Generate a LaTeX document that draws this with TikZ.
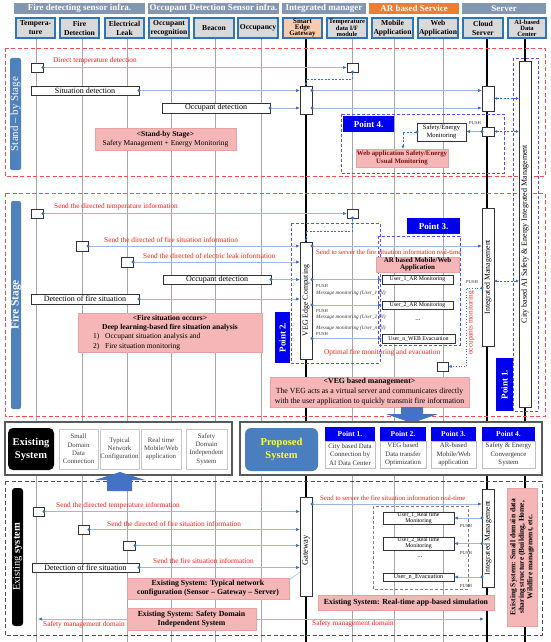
\documentclass[tikz,border=0pt]{standalone}
\usepackage{fontspec}
\setmainfont{Liberation Serif}
\usetikzlibrary{arrows.meta,calc}
\definecolor{hdrgray}{HTML}{8497B0}
\definecolor{hdrorange}{HTML}{ED7D31}
\definecolor{colblue}{HTML}{2E75B6}
\definecolor{colfill}{HTML}{D9D9D9}
\definecolor{gwfill}{HTML}{F8CBAD}
\definecolor{stageblue}{HTML}{4F81BD}
\definecolor{pinkbox}{HTML}{F4B6B6}
\definecolor{pinkline}{HTML}{E8A2A2}
\definecolor{pointblue}{HTML}{0000EE}
\definecolor{dashblue}{HTML}{5050FF}
\definecolor{dashred}{HTML}{FF4B4B}
\definecolor{lineblue}{HTML}{9DB9E3}
\definecolor{tipblue}{HTML}{3A6FC4}
\definecolor{lifegray}{HTML}{A6A6A6}
\definecolor{txtred}{HTML}{FF1A1A}
\definecolor{propyellow}{HTML}{FFFF33}
\definecolor{propblue}{HTML}{4A7EBF}
\definecolor{arrblue}{HTML}{4472C4}
\definecolor{webred}{HTML}{7A1010}
\newcommand\fsz[2]{\fontsize{#1}{#2}\selectfont}
\newcommand\mkbox[7]{\node[#2,minimum width={#5-#3},minimum height={#6-#4}] (#1) at ({(#3+#5)/2},{(#4+#6)/2}) {#7};}
\tikzset{
  grp/.style={fill=hdrgray,text=white,font=\fsz{9}{10}\bfseries,inner sep=0pt,outer sep=0pt},
  colh/.style={draw=colblue,line width=1.2pt,fill=colfill,font=\fsz{7.6}{9}\bfseries,align=center,inner sep=0pt,outer sep=0pt},
  actb/.style={draw=black!80,line width=0.6pt,fill=white,inner sep=0pt,outer sep=0pt,align=center,font=\fsz{8}{9}},
  pinkb/.style={fill=pinkbox,draw=pinkline,line width=0.4pt,inner sep=0pt,outer sep=0pt,align=center,font=\fsz{7.5}{9}},
  ptlab/.style={fill=pointblue,text=white,font=\fsz{9}{10}\bfseries,inner sep=0pt,outer sep=0pt},
  stagel/.style={fill=stageblue,rounded corners=2pt,inner sep=0pt,outer sep=0pt},
  lifel/.style={draw=lifegray,line width=0.8pt},
  lifeb/.style={draw=black,line width=1.3pt},
  conn/.style={draw=lineblue,line width=0.7pt,{Circle[length=3pt,color=tipblue]}-{Latex[length=4pt,width=3.2pt,color=tipblue]},shorten <=-1.5pt},
  connp/.style={draw=lineblue,line width=0.7pt,-{Latex[length=4pt,width=3.2pt,color=tipblue]}},
  dconn/.style={draw=tipblue,line width=0.6pt,dash pattern=on 2pt off 1.5pt,{Latex[length=3pt,width=3pt]}-{Latex[length=3pt,width=3pt]}},
  tdashc/.style={draw=tipblue,line width=0.6pt,dash pattern=on 2pt off 1.5pt,{Circle[length=3pt]}-{Latex[length=3.5pt,width=3pt]},shorten <=-1.5pt},
  dotc/.style={draw=tipblue,line width=0.7pt,dotted,{Circle[length=3pt]}-{Latex[length=3.5pt,width=3pt]},shorten <=-1.5pt},
  secr/.style={draw=dashred,line width=0.9pt,dash pattern=on 4pt off 2.5pt},
  exsec/.style={draw=black!70,line width=0.9pt,dash pattern=on 4pt off 2.5pt},
  bdash/.style={draw=dashblue,line width=0.9pt,dash pattern=on 3pt off 2pt},
  gdash/.style={draw=gray,line width=0.7pt,dash pattern=on 3pt off 2pt},
  rtxt/.style={text=txtred,font=\fsz{7.3}{8},inner sep=0pt,anchor=west},
  tinyt/.style={font=\fsz{4.6}{5},inner sep=0pt,text=black!80},
  tinyi/.style={font=\fsz{5.2}{6}\itshape,inner sep=0pt,text=black!80,anchor=west},
  sumbox/.style={draw=black!65,line width=1.4pt,fill=white,inner sep=0pt,outer sep=0pt},
  subb/.style={draw=gray!45,line width=0.8pt,fill=white,text=black!75,font=\fsz{6.8}{8.3},align=center,inner sep=0pt,outer sep=0pt},
  ptbody/.style={draw=gray!50,line width=0.8pt,fill=white,text=black!80,font=\fsz{6.8}{8.3},align=center,inner sep=0pt,outer sep=0pt},
  calline/.style={draw=lineblue,line width=0.5pt},
}
\begin{document}
\begin{tikzpicture}[x=1pt,y=-1pt]
\useasboundingbox (0,0) rectangle (550,642);
\fill[white] (0,0) rectangle (550,642);

% lifelines
\foreach \lx in {36,82,127,171,215,261,352,394,443} \draw[lifel] (\lx,38) -- (\lx,642);
\foreach \lx in {306,487,525} \draw[lifeb] (\lx,38) -- (\lx,642);

% group headers
\mkbox{g1}{grp}{14}{3}{145}{14}{Fire detecting sensor infra.}
\mkbox{g2}{grp}{148}{3}{279}{14}{Occupant Detection Sensor infra.}
\mkbox{g3}{grp}{282}{3}{366}{14}{Integrated manager}
\mkbox{g4}{grp,fill=hdrorange}{369}{3}{459}{14}{AR based Service}
\mkbox{g5}{grp}{462}{3}{546}{14}{Server}

% column headers
\mkbox{hT}{colh}{16}{18}{55}{38}{Tempera-\\ture}
\mkbox{hF}{colh}{60}{18}{99}{38}{Fire\\Detection}
\mkbox{hE}{colh}{105}{18}{144}{38}{Electrical\\Leak}
\mkbox{hO}{colh}{149}{18}{189}{38}{Occupant\\recognition}
\mkbox{hB}{colh}{194}{18}{234}{38}{Beacon}
\mkbox{hC}{colh}{238}{18}{278}{38}{Occupancy}
\mkbox{hG}{colh,fill=gwfill,font=\fsz{7}{6.4}\bfseries}{283}{18}{322}{38}{Smart\\Edge\\Gateway}
\mkbox{hI}{colh,font=\fsz{6.5}{6.2}\bfseries}{327}{18}{367}{38}{Temperature\\data I/F\\module}
\mkbox{hM}{colh}{372}{18}{413}{38}{Mobile\\Application}
\mkbox{hW}{colh}{418}{18}{458}{38}{Web\\Application}
\mkbox{hS}{colh}{463}{18}{503}{38}{Cloud\\Server}
\mkbox{hA}{colh,font=\fsz{6.5}{6.2}\bfseries}{508}{18}{546}{38}{AI-based\\Data\\Center}

% sections
\draw[secr] (5,48) rectangle (545,176);
\draw[secr] (5,193) rectangle (545,416);
\draw[exsec] (5,481) rectangle (542,635);

% AI data center box
\draw[bdash] (513,58) rectangle (538,411);
\mkbox{aiB}{actb}{519}{61}{531}{407}{}
\node[rotate=90,font=\fsz{8}{9}] (aiBt) at (aiB) {City based AI Safety \& Energy Integrated Management};
\mkbox{p1L}{ptlab}{496}{358}{513}{411}{}
\node[rotate=90,text=white,font=\fsz{9}{10}\bfseries] (p1Lt) at (p1L) {Point 1.};

% ===== Stand-by stage =====
\mkbox{stA}{stagel}{10}{58}{21}{170}{}
\node[rotate=90,text=white,font=\fsz{11}{12}] (stAt) at (stA) {Stand – by Stage};
\mkbox{tA}{actb}{31}{63}{43}{72}{}
\mkbox{tifA}{actb}{347}{63}{358}{72}{}
\node[rtxt] (lA1) at (53,61) {Direct temperature detection};
\draw[conn] (tA.east) -- (tA.east -| tifA.west);
\mkbox{gwA}{actb}{300}{86}{312}{114}{}
\draw[tdashc] (tifA.south) -- ++(0,7) -| (gwA.north);
\mkbox{sdA}{actb}{31}{86}{139}{95}{Situation detection}
\mkbox{odA}{actb}{162}{103}{270}{113}{Occupant detection}
\draw[conn] (sdA.east) -- (sdA.east -| gwA.west);
\draw[conn] (odA.east) -- (odA.east -| gwA.west);
\mkbox{clA}{actb}{482}{86}{494}{111}{}
\draw[conn] (gwA.east |- sdA.east) -- (sdA.east -| clA.west);
\draw[conn] (gwA.east |- odA.east) -- (odA.east -| clA.west);
\draw[dconn] (clA.east) -- (clA.east -| aiB.west);
\mkbox{sbP}{pinkb}{95}{128}{236}{150}{\textbf{<Stand-by Stage>}\\Safety Management + Energy Monitoring}

\draw[bdash] (341,114) rectangle (504,173);
\mkbox{p4L}{ptlab}{343}{116}{394}{132}{Point 4.}
\mkbox{seM}{actb,font=\fsz{6.5}{8}}{417}{123}{466}{141}{Safety/Energy\\Monitoring}
\mkbox{clB}{actb}{482}{127}{494}{136}{}
\node[tinyt] (pA) at (475,123) {PUSH};
\draw[conn] (clB.west) -- (clB.west -| seM.east);
\draw[dconn] (clB.east) -- (clB.east -| aiB.west);
\mkbox{wbP}{pinkb,font=\fsz{6.8}{7.5}\bfseries,text=webred}{356}{149}{448}{167}{Web application Safety/Energy\\Usual Monitoring}
\draw[tdashc] (seM.west) -| ($(wbP.north west)+(47,0)$);

% ===== Fire stage =====
\mkbox{stB}{stagel}{11}{201}{21}{409}{}
\node[rotate=90,text=white,font=\fsz{11.5}{12}\bfseries] (stBt) at (stB) {Fire Stage};
\draw[bdash] (291,223) rectangle (380,363);
\draw[bdash] (378,236) rectangle (460,345);
\mkbox{tB}{actb}{31}{209}{43}{218}{}
\mkbox{tifB}{actb}{347}{209}{358}{218}{}
\node[rtxt] (lB1) at (54,207) {Send the directed temperature information};
\draw[conn] (tB.east) -- (tB.east -| tifB.west);
\mkbox{gwB}{actb}{300}{242}{312}{359}{}
\node[rotate=90,font=\fsz{7.8}{8}] (gwBt) at (gwB) {VEG Edge Computing};
\draw[tdashc] (tifB.south) -- ++(0,13) -| (gwB.north);
\mkbox{fB}{actb}{76}{241}{88}{251}{}
\node[rtxt] (lB2) at (104,240) {Send the directed of fire situation information};
\draw[conn] (fB.east) -- (fB.east -| gwB.west);
\mkbox{eB}{actb}{121}{257}{133}{267}{}
\node[rtxt] (lB3) at (143,256) {Send the directed of electric leak information};
\draw[conn] (eB.east) -- (eB.east -| gwB.west);
\mkbox{odB}{actb}{163}{275}{271}{284}{Occupant detection}
\draw[conn] (odB.east) -- (odB.east -| gwB.west);
\mkbox{dfB}{actb}{31}{294}{139}{304}{Detection of fire situation}
\draw[conn] (dfB.east) -- (dfB.east -| gwB.west);
\mkbox{clC}{actb}{482}{208}{494}{346}{}
\node[rotate=90,font=\fsz{7.8}{8}] (clCt) at (clC) {Integrated Management};
\draw[conn] (gwB.east |- fB.east) -- (fB.east -| clC.west);
\node[rtxt,font=\fsz{6.8}{7}] (lB4) at (316,252) {Send to server the fire situation information real-time};
\mkbox{p3L}{ptlab}{407}{218}{460}{234}{Point 3.}
\mkbox{arP}{pinkb,font=\fsz{7}{7}\bfseries}{376}{257}{459}{272}{AR based Mobile/Web\\Application}
\mkbox{u1}{actb,font=\fsz{5.8}{6}}{382}{275}{453}{284}{User\_1\_AR Monitoring}
\mkbox{u2}{actb,font=\fsz{5.8}{6}}{382}{301}{453}{309}{User\_2\_AR Monitoring}
\node[font=\fsz{7}{7}] (udots) at (418,320) {...};
\mkbox{un}{actb,font=\fsz{5.8}{6}}{382}{334}{455}{343}{User\_n\_WEB Evacuation}
\draw[conn] (gwB.east |- u1.west) -- (u1.west);
\draw[conn] (gwB.east |- u2.west) -- (u2.west);
\draw[conn] (gwB.east |- un.west) -- (un.west);
\node[tinyt,anchor=west] (pu1) at (316,286) {PUSH};
\node[tinyi] (mm1) at (316,293) {Message monitoring (User\_1 UI)};
\node[tinyt,anchor=west] (pu2) at (316,311) {PUSH};
\node[tinyi] (mm2) at (316,317) {Message monitoring (User\_2 UI)};
\node[tinyi] (mm3) at (316,328) {Message monitoring (User\_n UI)};
\node[tinyt,anchor=west] (pu3) at (316,334) {PUSH};
\node[rtxt] (lB5) at (324,353) {Optimal fire monitoring and evacuation};
\mkbox{wB}{actb}{437}{362}{448}{371}{}
\coordinate (pushF) at (482,288);
\node[tinyt,anchor=west] (pu4) at (466,282) {PUSH};
\draw[dotc] (pushF) -- ++(-16,0) |- (wB.east);
\node[rtxt,rotate=90,anchor=center] (occm) at (471,323) {occupants monitoring};
\coordinate (aiF) at ($(clC.east)+(0,4)$);
\draw[dconn] (aiF) -- (aiF -| aiB.west);
\mkbox{fiP}{pinkb,font=\fsz{7.5}{9.3}}{78}{313}{262}{352}{\textbf{<Fire situation occurs>}\\\textbf{Deep learning-based fire situation analysis}\\\makebox[154pt][l]{1)\hspace{6pt}Occupant situation analysis and}\\\makebox[154pt][l]{2)\hspace{6pt}Fire situation monitoring}}
\mkbox{p2L}{ptlab}{275}{312}{290}{363}{}
\node[rotate=90,text=white,font=\fsz{9}{10}\bfseries] (p2Lt) at (p2L) {Point 2.};
\mkbox{vgP}{pinkb,font=\fsz{7.8}{10}}{270}{377}{469}{407}{\textbf{<VEG based management>}\\The VEG acts as a virtual server and communicates directly\\with the user application to quickly transmit fire information}
\fill[arrblue] (401,407) -- (423,407) -- (423,414) -- (438,414) -- (412,423) -- (386,414) -- (401,414) -- cycle;

% ===== summary row =====
\mkbox{exB}{sumbox}{5}{422}{232}{475}{}
\mkbox{exL}{fill=black,rounded corners=5pt,text=white,font=\fsz{10.5}{13}\bfseries,align=center,inner sep=0pt}{8}{428}{54}{470}{Existing\\System}
\mkbox{s1}{subb}{59}{429}{98}{469}{Small\\Domain\\Data\\Connection}
\mkbox{s2}{subb}{100}{429}{139}{469}{Typical\\Network\\Configuration}
\mkbox{s3}{subb}{141}{429}{181}{469}{Real time\\Mobile/Web\\application}
\mkbox{s4}{subb}{186}{429}{227}{469}{Safety\\Domain\\Independent\\System}
\mkbox{prB}{sumbox}{240}{422}{542}{475}{}
\mkbox{prL}{fill=propblue,rounded corners=6pt,text=propyellow,font=\fsz{10.5}{13}\bfseries,align=center,inner sep=0pt}{245}{428}{318}{471}{Proposed\\System}
\mkbox{q1h}{ptlab,font=\fsz{7.5}{8}\bfseries}{325}{427}{375}{441}{Point 1.}
\mkbox{q1b}{ptbody}{325}{441}{375}{468}{City based Data\\Connection by\\AI Data Center}
\mkbox{q2h}{ptlab,font=\fsz{7.5}{8}\bfseries}{380}{427}{426}{441}{Point 2.}
\mkbox{q2b}{ptbody}{380}{441}{426}{468}{VEG based\\Data transfer\\Optimization}
\mkbox{q3h}{ptlab,font=\fsz{7.5}{8}\bfseries}{431}{427}{476}{441}{Point 3.}
\mkbox{q3b}{ptbody}{431}{441}{476}{468}{AR-based\\Mobile/Web\\application}
\mkbox{q4h}{ptlab,font=\fsz{7.5}{8}\bfseries}{482}{427}{535}{441}{Point 4.}
\mkbox{q4b}{ptbody}{482}{441}{535}{468}{Safety \& Energy\\Convergence\\System}
\fill[arrblue] (107,491) -- (132,491) -- (132,480) -- (145,480) -- (120,472) -- (95,480) -- (107,480) -- cycle;

% ===== Existing system =====
\mkbox{stC}{stagel,fill=black,rounded corners=3pt}{12}{488}{23}{626}{}
\node[rotate=90,text=white,font=\fsz{10.5}{11}] (stCt) at (stC) {Existing \textbf{system}};
\mkbox{tC}{actb}{33}{507}{44}{516}{}
\node[rtxt] (lC1) at (56,506) {Send the directed temperature information};
\mkbox{gwC}{actb}{300}{497}{312}{596}{}
\node[rotate=90,font=\fsz{8.5}{9}] (gwCt) at ($(gwC)+(0,4)$) {Gateway};
\draw[conn] (tC.east) -- (tC.east -| gwC.west);
\mkbox{fC}{actb}{78}{525}{89}{534}{}
\node[rtxt] (lC2) at (107,524) {Send the directed of fire situation information};
\draw[conn] (fC.east) -- (fC.east -| gwC.west);
\mkbox{eC}{actb}{123}{541}{135}{550}{}
\draw[conn] (eC.east) -- (eC.east -| gwC.west);
\mkbox{dfC}{actb}{32}{563}{139}{572}{Detection of fire situation}
\node[rtxt] (lC3) at (153,561) {Send the fire situation information};
\draw[conn] (dfC.east) -- (dfC.east -| gwC.west);
\mkbox{clD}{actb}{482}{489}{494}{587}{}
\node[rotate=90,font=\fsz{7.8}{8}] (clDt) at (clD) {Integrated Management};
\coordinate (gwCo) at ($(gwC.north east)+(0,7)$);
\draw[conn] (gwCo) -- (gwCo -| clD.west);
\node[rtxt,font=\fsz{6.8}{7}] (lC4) at (320,498) {Send to server the fire situation information real-time};
\draw[gdash] (373,506) rectangle (468,589);
\mkbox{v1}{actb,font=\fsz{5.8}{5.8}}{383}{512}{454}{524}{User\_1\_Real time\\Monitoring}
\mkbox{v2}{actb,font=\fsz{5.8}{5.8}}{383}{537}{454}{550}{User\_2\_Real time\\Monitoring}
\node[font=\fsz{7}{7}] (vdots) at (420,557) {...};
\mkbox{vn}{actb,font=\fsz{6.3}{7}}{383}{573}{454}{581}{User\_n\_Evacuation}
\draw[conn] (clD.west |- v1.east) -- (v1.east);
\draw[conn] (clD.west |- v2.east) -- (v2.east);
\draw[conn] (clD.west |- vn.east) -- (vn.east);
\node[tinyt] (pc1) at (466,526) {PUSH};
\node[tinyt] (pc2) at (466,553) {PUSH};
\node[tinyt] (pc3) at (466,586) {PUSH};
\coordinate (smC) at ($(gwC.south)+(0,23)$);
\coordinate (smL) at (38,619);
\coordinate (smR) at (484,619);
\draw[connp] (smC) -- (smL);
\draw[connp] (smC) -- (smR);
\mkbox{exN}{pinkb,font=\fsz{7.8}{9}\bfseries}{127}{578}{289}{599}{Existing System: Typical network\\configuration (Sensor – Gateway – Server)}
\draw[calline] ($(exN.north east)+(0,2)$) -- ($(gwC.south west)+(0,-24)$);
\mkbox{exD}{pinkb,font=\fsz{7.8}{9}\bfseries}{127}{608}{256}{630}{Existing System: Safety Domain\\Independent System}
\mkbox{exR}{pinkb,font=\fsz{7.8}{9}\bfseries}{318}{595}{494}{610}{Existing System: Real-time app-based simulation}
\node[rtxt] (sm1) at (43,625) {Safety management domain};
\node[rtxt] (sm2) at (312,624) {Safety management domain};
\mkbox{exS}{pinkb}{507}{488}{537}{626}{}
\node[rotate=90,align=center,font=\fsz{7.5}{8.5}\bfseries] (exSt) at (exS) {Existing System: Small domain data\\sharing structure (Building, Home,\\Wildfire management, etc.};
\end{tikzpicture}
\end{document}
